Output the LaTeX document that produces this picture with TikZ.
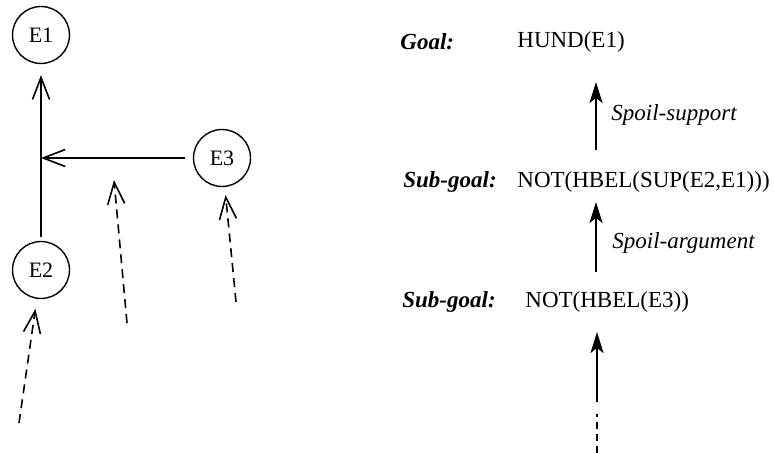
\documentclass[tikz,border=0pt]{standalone}
\usepackage{fontspec}
\setmainfont{Liberation Serif}
\usetikzlibrary{arrows.meta}
\begin{document}
\begin{tikzpicture}[x=0.5pt,y=-0.5pt,
  ent/.style={circle,draw,line width=0.7pt,minimum size=28.5pt,inner sep=0pt,font=\fontsize{11}{12}\selectfont},
  openarrow/.style={line width=0.8pt,-{Straight Barb[length=11pt,width=8.5pt,line width=0.8pt]}},
  dasharrow/.style={openarrow,dash pattern=on 4.5pt off 3pt},
  txt/.style={anchor=west,inner sep=0pt,font=\fontsize{11.5}{13}\selectfont},
  lbl/.style={txt,font=\fontsize{11.5}{13}\selectfont\bfseries\itshape},
  rel/.style={txt,font=\fontsize{11.5}{13}\selectfont\itshape},
  goalarrow/.style={line width=1.1pt,-{Stealth[length=10.5pt,width=6.5pt,inset=2.5pt]}}]
\useasboundingbox (0,0) rectangle (774,453);

% argument graph
\node[ent] (E1) at (41,35) {E1};
\node[ent] (E2) at (41,270) {E2};
\node[ent] (E3) at (222,158) {E3};
\coordinate (J) at (41,158);
\draw[openarrow,shorten <=2pt,shorten >=5.5pt] (E2.north) -- (E1.south);
\draw[openarrow,shorten <=4pt] (E3.west) -- (J);

% incoming (dashed) attacks
\coordinate (m0) at (127,323);
\coordinate (m1) at (114,180);
\draw[dasharrow] (m0) -- (m1);
\coordinate (e3in) at (236,302);
\draw[dasharrow,shorten >=4pt] (e3in) -- (E3);
\coordinate (e2in) at (19,423);
\draw[dasharrow,shorten >=5pt] (e2in) -- (E2);

% goal chain
\node[lbl] (gl) at (400,42) {Goal:};
\node[txt] (g) at (517,42) {HUND(E1)};
\node[lbl] (sl1) at (403,182) {Sub-goal:};
\node[txt] (s1) at (517,182) {NOT(HBEL(SUP(E2,E1)))};
\node[lbl] (sl2) at (402,302) {Sub-goal:};
\node[txt] (s2) at (525,302) {NOT(HBEL(E3))};

\coordinate (a1s) at (596,150);
\coordinate (a1t) at (596,82);
\draw[goalarrow] (a1s) -- (a1t);
\node[rel] (r1) at (611,115) {Spoil-support};

\coordinate (a2s) at (596,272);
\coordinate (a2t) at (596,202);
\draw[goalarrow] (a2s) -- (a2t);
\node[rel] (r2) at (612,243) {Spoil-argument};

\coordinate (a3s) at (597,402);
\coordinate (a3t) at (597,332);
\draw[goalarrow] (a3s) -- (a3t);
\coordinate (a3b) at (597,453);
\coordinate (a3m) at (597,414);
\draw[line width=1.1pt,dash pattern=on 3.5pt off 2.5pt] (a3b) -- (a3m);
\end{tikzpicture}
\end{document}
